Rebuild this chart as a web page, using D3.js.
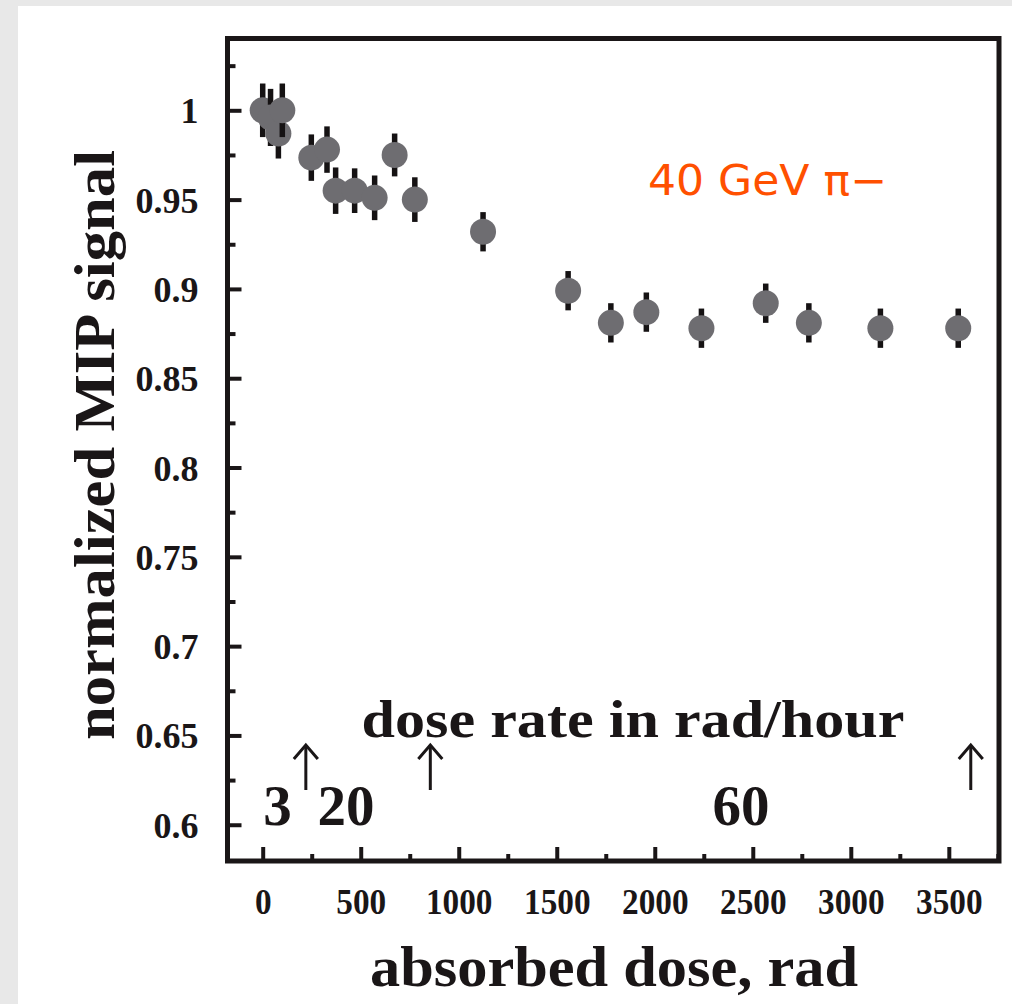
<!DOCTYPE html>
<html><head><meta charset="utf-8">
<script src="https://cdn.jsdelivr.net/npm/d3@7"></script>
<style>body{margin:0;background:#e8e8e8;overflow:hidden}</style></head>
<body>
<svg id="c" width="1012" height="1004"></svg>
<script>
// ---- data ----
const dose   = [0, 40, 80, 100, 248, 328, 372, 469, 571, 673, 776, 1124, 1558, 1776, 1957, 2238, 2566, 2786, 3151, 3548];
const signal = [1.0, 0.996, 0.987, 1.0, 0.9735, 0.978, 0.955, 0.955, 0.951, 0.975, 0.950, 0.932, 0.899, 0.881, 0.887, 0.878, 0.892, 0.881, 0.878, 0.878];
const errors = [0.015, 0.016, 0.014, 0.015, 0.013, 0.013, 0.013, 0.0125, 0.0125, 0.012, 0.0125, 0.011, 0.011, 0.011, 0.011, 0.011, 0.011, 0.011, 0.011, 0.011];
const xTicks = [0, 500, 1000, 1500, 2000, 2500, 3000, 3500];
const xMinorTicks = [250, 750, 1250, 1750, 2250, 2750, 3250, 3750];
const yTicks = [0.6, 0.65, 0.7, 0.75, 0.8, 0.85, 0.9, 0.95, 1.0];
const yTickLabels = ["0.6", "0.65", "0.7", "0.75", "0.8", "0.85", "0.9", "0.95", "1"];
const yMinorTicks = [0.625, 0.675, 0.725, 0.775, 0.825, 0.875, 0.925, 0.975, 1.025];
const rateArrows = [220, 855, 3612];
const rateLabels = [{t: "3", d: 75}, {t: "20", d: 425}, {t: "60", d: 2440}];
const xTitle = "absorbed dose, rad";
const yTitle = "normalized MIP signal";
const rateTitle = "dose rate in rad/hour";
const beamLabel = "40 GeV \u03c0\u2212";

// ---- layout ----
const svg = d3.select("#c");
const L = 227.5, R = 999, T = 38.5, B = 861;
const x = d3.scaleLinear().domain([-179.6, 3756]).range([L, R]);
const y = d3.scaleLinear().domain([0.5797, 1.0402]).range([B, T]);
const serif = "'Liberation Serif','Times New Roman',serif";

svg.append("rect").attr("width", 1012).attr("height", 1004).attr("fill", "#e8e8e8");
svg.append("rect").attr("x", 18).attr("y", 6).attr("width", 1000).attr("height", 1004).attr("fill", "#fff");

// ticks (inward)
const xTickAxis = d3.axisTop(x).tickValues(xTicks).tickSize(14).tickFormat("");
const xMinorAxis = d3.axisTop(x).tickValues(xMinorTicks).tickSize(7).tickFormat("");
const yTickAxis = d3.axisRight(y).tickValues(yTicks).tickSize(14).tickFormat("");
const yMinorAxis = d3.axisRight(y).tickValues(yMinorTicks).tickSize(8).tickFormat("");
[[xTickAxis, `translate(0,${B})`], [xMinorAxis, `translate(0,${B})`], [yTickAxis, `translate(${L},0)`], [yMinorAxis, `translate(${L},0)`]].forEach(([a, tr]) => {
  const g = svg.append("g").attr("transform", tr).call(a);
  g.select(".domain").remove();
  g.selectAll("line").attr("stroke", "#1a1617").attr("stroke-width", 4);
});

// tick labels
const xLab = svg.append("g").attr("transform", `translate(0,${B})`)
  .call(d3.axisBottom(x).tickValues(xTicks).tickSize(0).tickPadding(0).tickFormat(d3.format("d")));
xLab.select(".domain").remove();
xLab.selectAll("text").attr("y", 53).attr("dy", 0).attr("font-family", serif).attr("font-weight", "bold")
  .attr("font-size", 35).attr("fill", "#1a1617")
  .attr("transform", function() { return null; })
  .each(function(d) {
    const n = String(d).length;
    d3.select(this).attr("textLength", n * 17.5 * 0.95).attr("lengthAdjust", "spacingAndGlyphs");
  });

const yLab = svg.append("g").attr("transform", `translate(${L},0)`)
  .call(d3.axisLeft(y).tickValues(yTicks).tickSize(0).tickPadding(0).tickFormat((d, i) => yTickLabels[i]));
yLab.select(".domain").remove();
yLab.selectAll("text").attr("x", -29).attr("dy", 12.5).attr("font-family", serif).attr("font-weight", "bold")
  .attr("font-size", 36).attr("fill", "#1a1617");

// data points
const pts = svg.append("g");
dose.forEach((d, i) => {
  const g = pts.append("g");
  g.append("line").attr("x1", x(d)).attr("x2", x(d))
    .attr("y1", y(signal[i] + errors[i])).attr("y2", y(signal[i] - errors[i]))
    .attr("stroke", "#151213").attr("stroke-width", 5.5);
  g.append("circle").attr("cx", x(d)).attr("cy", y(signal[i])).attr("r", 13).attr("fill", "#6e6d71");
});

// frame
svg.append("rect").attr("x", L).attr("y", T).attr("width", R - L).attr("height", B - T)
  .attr("fill", "none").attr("stroke", "#1a1617").attr("stroke-width", 5);

// dose-rate annotation
svg.append("text").attr("x", 633).attr("y", 737).attr("text-anchor", "middle")
  .attr("font-family", serif).attr("font-weight", "bold").attr("font-size", 52)
  .attr("textLength", 543).attr("lengthAdjust", "spacingAndGlyphs")
  .attr("fill", "#1a1617").text(rateTitle);
rateArrows.forEach(d => {
  const ax = x(d), top = 745, bot = 790;
  svg.append("line").attr("x1", ax).attr("x2", ax).attr("y1", top + 2).attr("y2", bot)
    .attr("stroke", "#1a1617").attr("stroke-width", 3);
  svg.append("path").attr("d", `M${ax - 12},${top + 14} L${ax},${top} L${ax + 12},${top + 14}`)
    .attr("fill", "none").attr("stroke", "#1a1617").attr("stroke-width", 3);
});
rateLabels.forEach(r => {
  svg.append("text").attr("x", x(r.d)).attr("y", 825).attr("text-anchor", "middle")
    .attr("font-family", serif).attr("font-weight", "bold").attr("font-size", 57)
    .attr("fill", "#1a1617").text(r.t);
});

// beam label
svg.append("text").attr("x", 648).attr("y", 195)
  .attr("font-family", "'Comic Sans MS','DejaVu Sans',sans-serif").attr("font-size", 42)
  .attr("textLength", 239).attr("lengthAdjust", "spacingAndGlyphs")
  .attr("fill", "#ff5000").text(beamLabel);

// axis titles
svg.append("text").attr("x", 614).attr("y", 986).attr("text-anchor", "middle")
  .attr("font-family", serif).attr("font-weight", "bold").attr("font-size", 56)
  .attr("textLength", 488).attr("lengthAdjust", "spacingAndGlyphs")
  .attr("fill", "#1a1617").text(xTitle);
svg.append("text").attr("transform", "translate(114,445) rotate(-90)").attr("text-anchor", "middle")
  .attr("font-family", serif).attr("font-weight", "bold").attr("font-size", 58)
  .attr("textLength", 590).attr("lengthAdjust", "spacingAndGlyphs")
  .attr("fill", "#1a1617").text(yTitle);
</script>
</body></html>
